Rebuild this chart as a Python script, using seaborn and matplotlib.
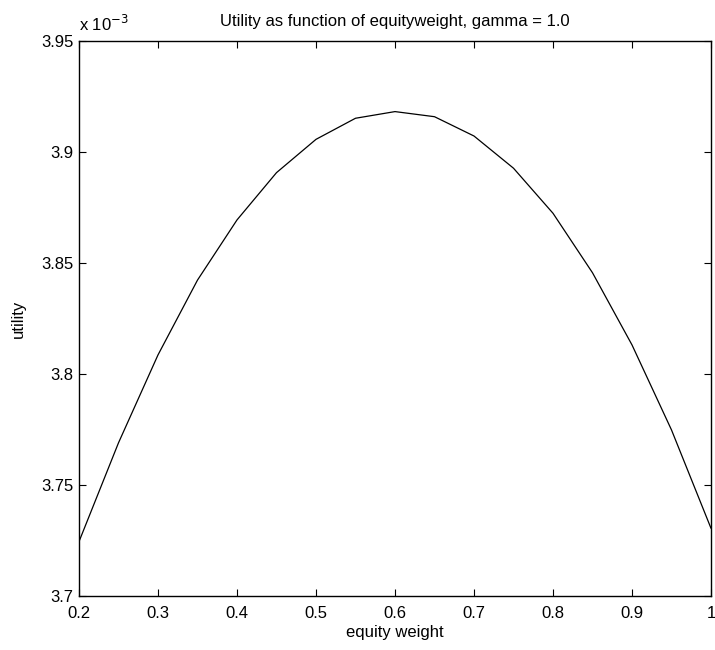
import matplotlib
matplotlib.use("Agg")
import matplotlib.pyplot as plt
import seaborn as sns
import pandas as pd
from matplotlib.ticker import FuncFormatter

equity_weight = [0.20, 0.25, 0.30, 0.35, 0.40, 0.45, 0.50, 0.55, 0.60,
                 0.65, 0.70, 0.75, 0.80, 0.85, 0.90, 0.95, 1.00]
utility = [3.7245e-3, 3.7690e-3, 3.8086e-3, 3.8423e-3, 3.8694e-3, 3.8907e-3,
           3.9057e-3, 3.9152e-3, 3.9182e-3, 3.9159e-3, 3.9072e-3, 3.8927e-3,
           3.8724e-3, 3.8456e-3, 3.8131e-3, 3.7748e-3, 3.7305e-3]
x_ticks = [0.2, 0.3, 0.4, 0.5, 0.6, 0.7, 0.8, 0.9, 1.0]
y_ticks = [3.70e-3, 3.75e-3, 3.80e-3, 3.85e-3, 3.90e-3, 3.95e-3]

sns.set_theme(style="ticks")
plt.rcParams['font.family'] = ['Liberation Sans', 'DejaVu Sans']
plt.rcParams['text.color'] = 'black'
plt.rcParams['axes.labelcolor'] = 'black'

df = pd.DataFrame({"equity weight": equity_weight, "utility": utility})

fig = plt.figure(figsize=(7.15, 6.5), dpi=100)
ax = fig.add_axes([79/715, 1 - 596/650, (711-79)/715, (596-41)/650])
sns.lineplot(data=df, x="equity weight", y="utility", ax=ax,
             color="black", linewidth=0.9)

ax.set_xlim(0.2, 1.0)
ax.set_ylim(3.70e-3, 3.95e-3)
ax.set_xticks(x_ticks)
ax.set_yticks(y_ticks)
ax.xaxis.set_major_formatter(FuncFormatter(lambda v, p: f"{v:g}"))
ax.yaxis.set_major_formatter(FuncFormatter(lambda v, p: f"{round(v*1e3, 4):g}"))
ax.tick_params(direction="in", length=5, width=0.8, top=True, right=True,
               labelsize=12, colors="black")
ax.tick_params(axis="x", pad=7)
ax.tick_params(axis="y", pad=4)
for s in ax.spines.values():
    s.set_visible(True)
    s.set_linewidth(1.0)
    s.set_color("black")

ax.set_xlabel("equity weight", fontsize=12, labelpad=3, color="black")
ax.set_ylabel("utility", fontsize=12, labelpad=11, color="black")
ax.set_title("Utility as function of equityweight, gamma = 1.0", fontsize=12,
             pad=11, color="black")
fig.text(79/715, 1 - 34/650, r"x 10$^{-3}$", fontsize=12, ha="left",
         va="bottom", color="black")

fig.savefig("out.png", dpi=100, facecolor="white")
